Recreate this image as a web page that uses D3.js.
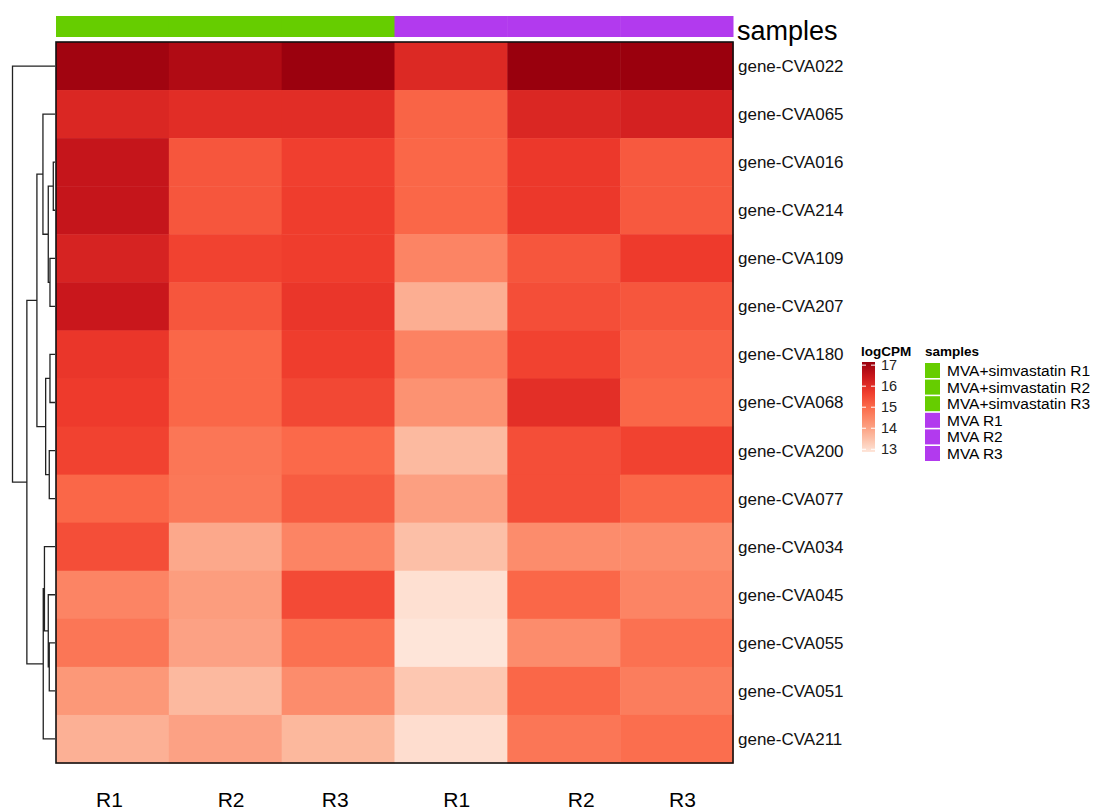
<!DOCTYPE html>
<html>
<head>
<meta charset="utf-8">
<script src="https://cdn.jsdelivr.net/npm/d3@7"></script>
<style>
	body { margin: 0; background: #fff; }
	text { font-family: "Liberation Sans", Arial, sans-serif; }
</style>
</head>
<body>
<svg id="chart" width="1104" height="810"></svg>
<script>
// rows of the heatmap, top to bottom (already in dendrogram order)
const genes = ["gene-CVA022", "gene-CVA065", "gene-CVA016", "gene-CVA214", "gene-CVA109",
	"gene-CVA207", "gene-CVA180", "gene-CVA068", "gene-CVA200", "gene-CVA077",
	"gene-CVA034", "gene-CVA045", "gene-CVA055", "gene-CVA051", "gene-CVA211"];

const samples = ["MVA+simvastatin R1", "MVA+simvastatin R2", "MVA+simvastatin R3", "MVA R1", "MVA R2", "MVA R3"];
const sampleGroup = ["MVA+simvastatin", "MVA+simvastatin", "MVA+simvastatin", "MVA", "MVA", "MVA"];
// column labels as they were typed (spaces included)
const colLabels = ["R1 ", "  R2", "R3 ", "  R1", "      R2", "  R3"];

// logCPM, one row per gene, one value per sample
const logCPM = [
	[17.03, 16.82, 17.12, 16.09, 17.15, 17.14],
	[16.13, 16.00, 16.00, 15.10, 16.13, 16.26],
	[16.52, 15.32, 15.66, 15.06, 15.79, 15.27],
	[16.52, 15.32, 15.70, 15.06, 15.79, 15.27],
	[16.22, 15.62, 15.70, 14.54, 15.32, 15.74],
	[16.47, 15.32, 15.83, 13.81, 15.44, 15.32],
	[15.83, 15.06, 15.70, 14.59, 15.62, 15.14],
	[15.74, 15.06, 15.53, 14.29, 15.96, 15.06],
	[15.62, 14.80, 15.02, 13.60, 15.44, 15.62],
	[15.06, 14.76, 15.23, 14.07, 15.44, 15.06],
	[15.44, 13.92, 14.54, 13.51, 14.41, 14.41],
	[14.54, 14.11, 15.49, 12.96, 15.06, 14.54],
	[14.80, 14.03, 14.89, 12.87, 14.41, 14.89],
	[14.20, 13.62, 14.41, 13.38, 15.06, 14.67],
	[13.77, 14.03, 13.64, 13.00, 14.80, 14.93]
];

// row clustering, hclust style: negative = leaf (1-based row), positive = earlier merge
const mergeLeft  = [-3, -5, -7, -9, -13, 1, -12, 3, -11, 9, -2, 11, 12, -1];
const mergeRight = [-4, -6, -8, -10, -14, 2, 5, 4, 7, -15, 6, 8, 10, 13];
const mergeHeight = [0.34, 1.0, 1.0, 1.14, 1.14, 1.34, 1.34, 1.86, 2.1, 2.34, 2.4, 3.6, 5.6, 8.46];

const legendTicks = [13, 14, 15, 16, 17];
const groupColors = { "MVA+simvastatin": "#66CD00", "MVA": "#B23AEE" };
const reds = ["#fee5d9", "#fcbba1", "#fc9272", "#fb6a4a", "#ef3b2c", "#cb181d", "#99000d"];

const svg = d3.select("#chart");

let x = d3.scaleBand()
	.domain(samples)
	.range([56, 733]);

let y = d3.scaleBand()
	.domain(genes)
	.range([42, 763]);

let allValues = logCPM.flat();
let vmin = d3.min(allValues), vmax = d3.max(allValues);
let colorRange = d3.scaleLinear()
	.domain(reds.map((c, i) => vmin + (vmax - vmin) * i / (reds.length - 1)))
	.range(reds)
	.interpolate(d3.interpolateRgb);

// cells
let cells = [];
logCPM.forEach((row, i) => row.forEach((v, j) => cells.push({ row: genes[i], col: samples[j], value: v })));

svg.append("g")
	.selectAll("rect")
	.data(cells)
	.enter()
	.append("rect")
		.attr("x", d => x(d.col))
		.attr("y", d => y(d.row))
		.attr("width", x.bandwidth() + 0.5)
		.attr("height", y.bandwidth() + 0.5)
		.style("fill", d => colorRange(d.value));

svg.append("rect")
	.attr("x", 56)
	.attr("y", 42)
	.attr("width", 677)
	.attr("height", 721)
	.attr("fill", "none")
	.attr("stroke", "#111")
	.attr("stroke-width", 1.6);

// sample annotation bar
svg.append("g")
	.selectAll("rect")
	.data(samples)
	.enter()
	.append("rect")
		.attr("x", d => x(d))
		.attr("y", 16)
		.attr("width", x.bandwidth() + 0.5)
		.attr("height", 21)
		.style("fill", (d, i) => groupColors[sampleGroup[i]]);

svg.append("text")
	.attr("x", 737)
	.attr("y", 40)
	.attr("font-size", 27)
	.text("samples");

// row labels
svg.append("g")
	.selectAll("text")
	.data(genes)
	.enter()
	.append("text")
		.attr("x", 738)
		.attr("y", d => y(d) + y.bandwidth() / 2)
		.attr("dy", "0.35em")
		.attr("font-size", 17)
		.attr("fill", "#111")
		.text(d => d);

// column labels
svg.append("g")
	.selectAll("text")
	.data(samples)
	.enter()
	.append("text")
		.attr("x", d => x(d) + x.bandwidth() / 2)
		.attr("y", 800)
		.attr("dy", "0.35em")
		.attr("text-anchor", "middle")
		.attr("font-size", 21)
		.style("white-space", "pre")
		.text((d, i) => colLabels[i]);

// row dendrogram
let hx = d3.scaleLinear()
	.domain([0, d3.max(mergeHeight)])
	.range([55, 12.5]);

let nodes = [];
function nodePos(k) {
	if (k < 0) {
		let g = genes[-k - 1];
		return { x: hx(0), y: y(g) + y.bandwidth() / 2 };
	}
	return nodes[k - 1];
}
let dendro = d3.path();
mergeLeft.forEach((l, i) => {
	let a = nodePos(l), b = nodePos(mergeRight[i]);
	let nx = hx(mergeHeight[i]);
	dendro.moveTo(a.x, a.y);
	dendro.lineTo(nx, a.y);
	dendro.lineTo(nx, b.y);
	dendro.lineTo(b.x, b.y);
	nodes.push({ x: nx, y: (a.y + b.y) / 2 });
});

svg.append("path")
	.attr("d", dendro.toString())
	.attr("fill", "none")
	.attr("stroke", "#222")
	.attr("stroke-width", 1.3);

// colour legend
let ly = d3.scaleLinear()
	.domain([vmin, vmax])
	.range([452, 362]);

let grad = svg.append("defs").append("linearGradient")
	.attr("id", "legendGrad")
	.attr("x1", 0).attr("y1", 1).attr("x2", 0).attr("y2", 0);
d3.range(0, 1.0001, 0.05).forEach(t => {
	grad.append("stop")
		.attr("offset", t)
		.attr("stop-color", colorRange(vmin + t * (vmax - vmin)));
});

svg.append("text")
	.attr("x", 861)
	.attr("y", 356)
	.attr("font-size", 13.5)
	.attr("font-weight", "bold")
	.text("logCPM");

svg.append("rect")
	.attr("x", 862)
	.attr("y", ly(vmax))
	.attr("width", 13)
	.attr("height", ly(vmin) - ly(vmax))
	.attr("fill", "url(#legendGrad)");

let tickG = svg.append("g")
	.selectAll("g")
	.data(legendTicks)
	.enter()
	.append("g")
		.attr("transform", d => "translate(0," + ly(d) + ")");
tickG.append("line")
	.attr("x1", 862).attr("x2", 866)
	.attr("stroke", "#fff").attr("stroke-width", 1);
tickG.append("line")
	.attr("x1", 871).attr("x2", 875)
	.attr("stroke", "#fff").attr("stroke-width", 1);
tickG.append("text")
	.attr("x", 881)
	.attr("dy", "0.35em")
	.attr("font-size", 14.5)
	.attr("fill", "#222")
	.text(d => d);

// samples legend
svg.append("text")
	.attr("x", 925)
	.attr("y", 356)
	.attr("font-size", 13.5)
	.attr("font-weight", "bold")
	.text("samples");

let sl = svg.append("g")
	.selectAll("g")
	.data(samples)
	.enter()
	.append("g")
		.attr("transform", (d, i) => "translate(925," + (363 + i * 16.6) + ")");
sl.append("rect")
	.attr("width", 15)
	.attr("height", 15)
	.style("fill", (d, i) => groupColors[sampleGroup[i]]);
sl.append("text")
	.attr("x", 22)
	.attr("y", 7.5)
	.attr("dy", "0.35em")
	.attr("font-size", 15.5)
	.text(d => d);
</script>
</body>
</html>
